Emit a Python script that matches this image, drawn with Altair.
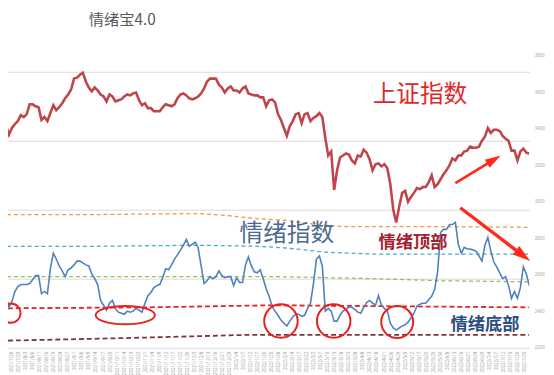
import altair as alt
import pandas as pd

# ---------------- data ----------------
# 上证指数 (Shanghai Composite), one value every ~2 trading days
red_vals = [
    3578, 3551, 3416, 3368, 3405, 3427, 3443, 3476, 3465, 3481,
    3535, 3535, 3524, 3519, 3449, 3465, 3443, 3487, 3530, 3503,
    3519, 3541, 3568, 3589, 3616, 3676, 3681, 3697, 3708, 3660,
    3627, 3606, 3627, 3611, 3589, 3578, 3551, 3589, 3578, 3551,
    3557, 3562, 3578, 3589, 3584, 3595, 3600, 3557, 3530, 3541,
    3514, 3514, 3497, 3497, 3497, 3519, 3535, 3530, 3524, 3535,
    3568, 3589, 3595, 3584, 3568, 3562, 3568, 3578, 3595, 3622,
    3660, 3676, 3676, 3676, 3643, 3627, 3600, 3622, 3633, 3611,
    3611, 3600, 3622, 3633, 3595, 3589, 3584, 3584, 3573, 3573,
    3524, 3557, 3562, 3546, 3481, 3449, 3405, 3362, 3416, 3443,
    3481, 3487, 3432, 3481, 3487, 3443, 3460, 3470, 3487, 3465,
    3351, 3254, 3276, 3065, 3173, 3243, 3254, 3265, 3259, 3227,
    3211, 3254, 3249, 3286, 3270, 3233, 3173, 3206, 3211, 3195,
    3206, 3184, 3097, 2957, 2887, 2973, 3049, 3060, 3000, 3027,
    3049, 3076, 3070, 3081, 3081, 3108, 3146, 3081, 3097, 3124,
    3151, 3173, 3200, 3238, 3227, 3254, 3254, 3276, 3281, 3303,
    3297, 3297, 3303, 3335, 3357, 3405, 3378, 3395, 3395, 3389,
    3362, 3346, 3335, 3281, 3281, 3227, 3276, 3292, 3270, 3265,
]

# 情绪指数 (sentiment index)
blue_vals = [
    20.0, 18.0, 14.9, 11.7, 13.4, 16.3, 17.7, 18.3, 18.3, 18.3,
    18.6, 19.7, 20.9, 20.9, 15.7, 16.3, 15.7, 22.9, 27.4, 25.7,
    23.7, 22.3, 20.6, 22.6, 23.1, 24.0, 25.1, 25.1, 24.6, 24.0,
    23.7, 21.4, 20.0, 18.3, 13.7, 12.3, 10.9, 12.9, 13.7, 11.4,
    10.3, 10.0, 9.7, 10.6, 10.3, 10.6, 11.4, 10.9, 10.3, 12.9,
    15.1, 16.0, 17.4, 18.0, 18.3, 20.3, 22.9, 22.6, 24.0, 25.7,
    26.9, 28.3, 29.7, 31.4, 29.4, 30.0, 30.6, 28.9, 23.7, 18.6,
    19.4, 20.6, 20.0, 20.6, 22.3, 20.9, 20.3, 20.6, 20.6, 18.0,
    20.3, 18.9, 18.9, 24.0, 26.3, 23.7, 22.0, 21.7, 22.6, 20.0,
    17.1, 14.9, 12.0, 10.6, 9.4, 8.0, 7.1, 6.3, 7.7, 8.9,
    9.7, 9.7, 9.1, 9.4, 11.4, 12.9, 18.6, 25.7, 26.6, 23.7,
    10.6, 11.4, 10.6, 7.7, 7.7, 9.4, 10.6, 11.1, 11.7, 11.7,
    11.1, 10.3, 10.0, 11.7, 13.1, 13.7, 12.9, 12.3, 15.1, 12.3,
    11.4, 10.6, 7.1, 5.7, 5.1, 5.7, 6.3, 6.6, 7.4, 8.6,
    10.0, 12.0, 12.6, 12.9, 12.9, 14.0, 14.9, 16.9, 22.0, 33.4,
    34.3, 34.3, 35.7, 35.7, 36.3, 30.0, 27.4, 29.1, 28.6, 28.6,
    28.3, 28.0, 26.6, 25.1, 29.7, 32.0, 28.0, 24.9, 23.4, 21.7,
    20.0, 20.6, 18.0, 14.3, 16.3, 14.3, 17.4, 23.4, 21.4, 18.0,
]

# dashed sentiment bands (key points: index, value)
orange_idx = [0, 33, 67, 77, 87, 97, 107, 117, 133, 150, 179]
orange_val = [38.6, 38.6, 38.9, 38.3, 37.4, 36.9, 35.7, 35.1, 35.1, 35.1, 34.9]
cyan_idx = [0, 33, 67, 87, 97, 110, 127, 150, 179]
cyan_val = [29.4, 29.4, 29.7, 29.4, 28.9, 27.7, 27.1, 27.1, 27.1]
green_idx = [0, 93, 127, 150, 179]
green_val = [20.6, 20.6, 20.0, 19.4, 19.1]
redband_idx = [0, 50, 92, 133, 179]
redband_val = [11.4, 11.7, 12.3, 12.0, 11.7]
maroon_idx = [0, 33, 57, 83, 179]
maroon_val = [2.0, 2.6, 3.1, 3.7, 3.7]

date_labels = [
    "2021/7/26", "2021/7/29", "2021/8/3", "2021/8/6", "2021/8/11", "2021/8/16",
    "2021/8/19", "2021/8/24", "2021/8/27", "2021/9/1", "2021/9/6", "2021/9/9",
    "2021/9/14", "2021/9/17", "2021/9/29", "2021/10/11", "2021/10/14",
    "2021/10/19", "2021/10/22", "2021/11/1", "2021/11/4", "2021/11/9",
    "2021/11/12", "2021/11/17", "2021/11/22", "2021/11/30", "2021/12/3",
    "2021/12/8", "2021/12/13", "2021/12/16", "2021/12/21", "2021/12/29",
    "2022/1/4", "2022/1/7", "2022/1/12", "2022/1/17", "2022/1/20", "2022/1/25",
    "2022/1/28", "2022/2/9", "2022/2/14", "2022/2/17", "2022/2/22", "2022/3/2",
    "2022/3/7", "2022/3/10", "2022/3/15", "2022/3/18", "2022/3/23", "2022/3/28",
    "2022/4/8", "2022/4/13", "2022/4/18", "2022/4/21", "2022/4/26", "2022/4/29",
    "2022/5/9", "2022/5/12", "2022/5/17", "2022/5/20", "2022/5/25", "2022/5/30",
    "2022/6/8", "2022/6/13", "2022/6/16", "2022/6/21", "2022/6/24", "2022/6/29",
    "2022/7/4", "2022/7/7", "2022/7/12", "2022/7/15", "2022/7/20", "2022/7/25",
]

right_ticks = [2200, 2400, 2600, 2800, 3000, 3200, 3400, 3600, 3800]
grid_ticks = [0, 20, 40, 60, 80]

# ---------------- chart ----------------
W, H = 529, 342
CJK = "Noto Sans CJK SC"

xs = alt.Scale(domain=[8 / 3, 179], nice=False, zero=False)
ys_red = alt.Scale(domain=[2200, 4048.6], nice=False, zero=False)
ys_blue = alt.Scale(domain=[0, 97.714], nice=False, zero=False)

red_df = pd.DataFrame({"i": list(range(len(red_vals))), "v": red_vals})
blue_df = pd.DataFrame({"i": list(range(len(blue_vals))), "v": blue_vals})

layers = []

bands = [
    (orange_idx, orange_val, "#F79646", 1.3, [4, 3]),
    (cyan_idx, cyan_val, "#4BACC6", 1.3, [4, 3]),
    (green_idx, green_val, "#9BBB59", 1.3, [4, 3]),
    (redband_idx, redband_val, "#E8211E", 1.8, [5, 3]),
    (maroon_idx, maroon_val, "#7F3535", 1.8, [5, 3]),
]
for idx, val, col, sw, dash in bands:
    df = pd.DataFrame({"i": idx, "v": val})
    layers.append(
        alt.Chart(df).mark_line(color=col, strokeWidth=sw, strokeDash=dash, clip=True).encode(
            x=alt.X("i:Q", scale=xs, axis=None),
            y=alt.Y("v:Q", scale=ys_blue, axis=None),
        )
    )

blue_line = alt.Chart(blue_df).mark_line(color="#4F81BD", strokeWidth=1.6, clip=True).encode(
    x=alt.X("i:Q", scale=xs, axis=None),
    y=alt.Y("v:Q", scale=ys_blue, axis=alt.Axis(
        orient="left", values=grid_ticks, labels=False, ticks=False, domain=False,
        grid=True, gridColor="#D9D9D9", gridWidth=1, title=None)),
)
layers.append(blue_line)

red_line = alt.Chart(red_df).mark_line(color="#C0454A", strokeWidth=2.6, clip=True).encode(
    x=alt.X("i:Q", scale=xs, axis=None),
    y=alt.Y("v:Q", scale=ys_red, axis=alt.Axis(
        orient="right", values=right_ticks, labels=True, ticks=False, domain=False,
        grid=False, labelFontSize=4.5, labelColor="#A6A6A6", labelPadding=5,
        labelFont="Noto Sans", format="d", title=None)),
)
layers.append(red_line)

date_df = pd.DataFrame({"d": date_labels})
dates = alt.Chart(date_df).mark_text(
    angle=270, align="right", baseline="middle", fontSize=4.5, color="#A0A0A0", font="Noto Sans"
).encode(
    x=alt.X("d:O", sort=None, scale=alt.Scale(padding=0.6), axis=None),
    y=alt.value(H + 4),
    text="d:N",
)
layers.append(dates)

one = pd.DataFrame({"a": [0]})

# text annotations (page coords minus 8px margin)
texts = [
    ("情绪宝4.0", 116, 9.5, 15.5, "#595959", "normal"),
    ("上证指数", 418, 86, 24, "#E0282A", "normal"),
    ("情绪指数", 283, 227, 24, "#4A6A94", "normal"),
    ("情绪顶部", 411, 236, 17.5, "#A3232E", "bold"),
    ("情绪底部", 484, 319, 17.5, "#2B4C7E", "bold"),
]
for t, x, y, fs, col, fw in texts:
    layers.append(
        alt.Chart(one).mark_text(
            text=t, fontSize=fs, color=col, fontWeight=fw, font=CJK,
            align="center", baseline="middle"
        ).encode(x=alt.value(x), y=alt.value(y))
    )

# red circles around the sentiment bottoms
circles = [(3, 307, 380), (277, 315, 1156), (330.5, 315, 1156), (395, 316, 1050)]
for x, y, s in circles:
    layers.append(
        alt.Chart(one).mark_point(shape="circle", size=s, filled=False, color="#E8201E",
                                  strokeWidth=2, opacity=1).encode(x=alt.value(x), y=alt.value(y))
    )
layers.append(
    alt.Chart(one).mark_point(
        shape="M-1,0A1,0.31,0,1,0,1,0A1,0.31,0,1,0,-1,0", size=3600, filled=False,
        color="#E8201E", strokeWidth=2, opacity=1
    ).encode(x=alt.value(119), y=alt.value(309))
)

# arrows
ARROW = "#FF2A1A"
head = "M0,-1L0.6,1L-0.6,1Z"
arrows = [
    (454, 175, 493.2, 151.2, 2.6, 256, 59),
    (459, 200, 522.8, 248.6, 3.4, 324, 127),
]
for x1, y1, x2, y2, sw, hs, ang in arrows:
    layers.append(
        alt.Chart(one).mark_rule(color=ARROW, strokeWidth=sw).encode(
            x=alt.value(x1), y=alt.value(y1), x2=alt.value(x2), y2=alt.value(y2))
    )
    layers.append(
        alt.Chart(one).mark_point(shape=head, size=hs, filled=True, color=ARROW, opacity=1,
                                  angle=ang).encode(x=alt.value(x2), y=alt.value(y2))
    )

chart = alt.layer(*layers).resolve_scale(x="independent", y="independent").properties(
    width=W, height=H,
    autosize=alt.AutoSizeParams(type="none"),
    padding={"left": 0, "top": 0, "right": 17, "bottom": 25},
    background="white",
).configure_view(strokeWidth=0, strokeOpacity=0)

chart.save("out.html", embed_options={"renderer": "svg", "actions": False})
